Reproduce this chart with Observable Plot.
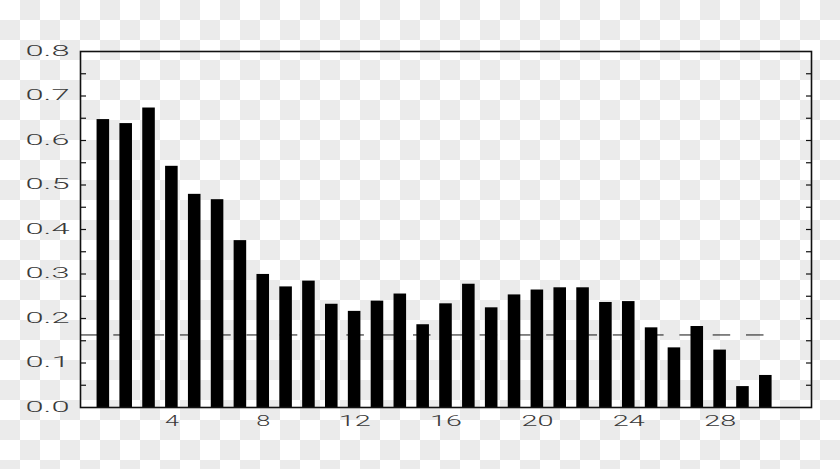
<!DOCTYPE html>
<html><head><meta charset="utf-8">
<script src="https://cdn.jsdelivr.net/npm/d3@7"></script>
<script src="https://cdn.jsdelivr.net/npm/@observablehq/plot@0.6"></script>
<style>
html,body{margin:0;padding:0;}
body{width:840px;height:469px;overflow:hidden;background-color:#fff;
  background-image:conic-gradient(#ebebeb 0 25%, #fff 0 50%, #ebebeb 0 75%, #fff 0);
  background-size:40px 40px;}
#chart svg{display:block;}
#chart svg text{font-weight:300;}
</style></head><body><div id="chart"></div>
<script>
// Data
const lags = [1,2,3,4,5,6,7,8,9,10,11,12,13,14,15,16,17,18,19,20,21,22,23,24,25,26,27,28,29,30];
const values = [0.647,0.638,0.673,0.542,0.479,0.467,0.375,0.299,0.271,0.284,
                0.232,0.216,0.239,0.255,0.186,0.233,0.277,0.224,0.253,0.264,
                0.269,0.269,0.236,0.238,0.179,0.134,0.182,0.129,0.047,0.072];
const bandLevel = [0.163];
const bandStart = [0];
const bandEnd = [30];
const xTicks = [4,8,12,16,20,24,28];
const yTicks = [0.0,0.1,0.2,0.3,0.4,0.5,0.6,0.7,0.8];
const yMinorTicks = [0.05,0.1,0.15,0.2,0.25,0.3,0.35,0.4,0.45,0.5,0.55,0.6,0.65,0.7,0.75];

const rows = lags.map((lag, i) => ({lag, value: values[i]}));
const band = bandLevel.map((y, i) => ({y, x1: bandStart[i], x2: bandEnd[i]}));
const halfWidth = 0.275;

const chart = Plot.plot({
  width: 840, height: 469,
  marginLeft: 80, marginRight: 29, marginTop: 51, marginBottom: 62,
  style: {background: "transparent", fontFamily: "Roboto, 'Liberation Sans', Arial, sans-serif", fontSize: "14px", color: "#111"},
  x: {type: "linear", domain: [0, 32], label: null},
  y: {domain: [0, 0.8], label: null},
  marks: [
    Plot.ruleY(band, {y: "y", x1: "x1", x2: "x2", stroke: "#111", strokeWidth: 1, strokeDasharray: "17.5,15.8"}),
    Plot.rectY(rows, {x1: d => d.lag - halfWidth, x2: d => d.lag + halfWidth, y: "value", fill: "#000"}),
    Plot.axisY(yMinorTicks, {anchor: "left", tickSize: 6, dx: 6, fill: "none", stroke: "#111", strokeWidth: 1.2}),
    Plot.axisY(yMinorTicks, {anchor: "right", tickSize: 6, dx: -6, fill: "none", stroke: "#111", strokeWidth: 1.2}),
    Plot.axisY(yTicks, {anchor: "left", tickSize: 0, tickPadding: 11, tickFormat: d3.format(".1f"), fill: "#3a3a3a"}),
    Plot.axisX(xTicks, {anchor: "bottom", tickSize: 0, tickPadding: 9, fill: "#3a3a3a"}),
    Plot.frame({stroke: "#111", strokeWidth: 1.6})
  ]
});
document.getElementById("chart").appendChild(chart);

// Stretch the wide tick-label lettering
chart.querySelectorAll('g[aria-label="y-axis tick label"] text').forEach(t => {
  t.setAttribute("textLength", 44);
  t.setAttribute("lengthAdjust", "spacingAndGlyphs");
});
chart.querySelectorAll('g[aria-label="x-axis tick label"] text').forEach(t => {
  const n = t.textContent.length;
  t.setAttribute("textLength", n > 1 ? 32 : 14);
  t.setAttribute("lengthAdjust", "spacingAndGlyphs");
});
</script></body></html>
